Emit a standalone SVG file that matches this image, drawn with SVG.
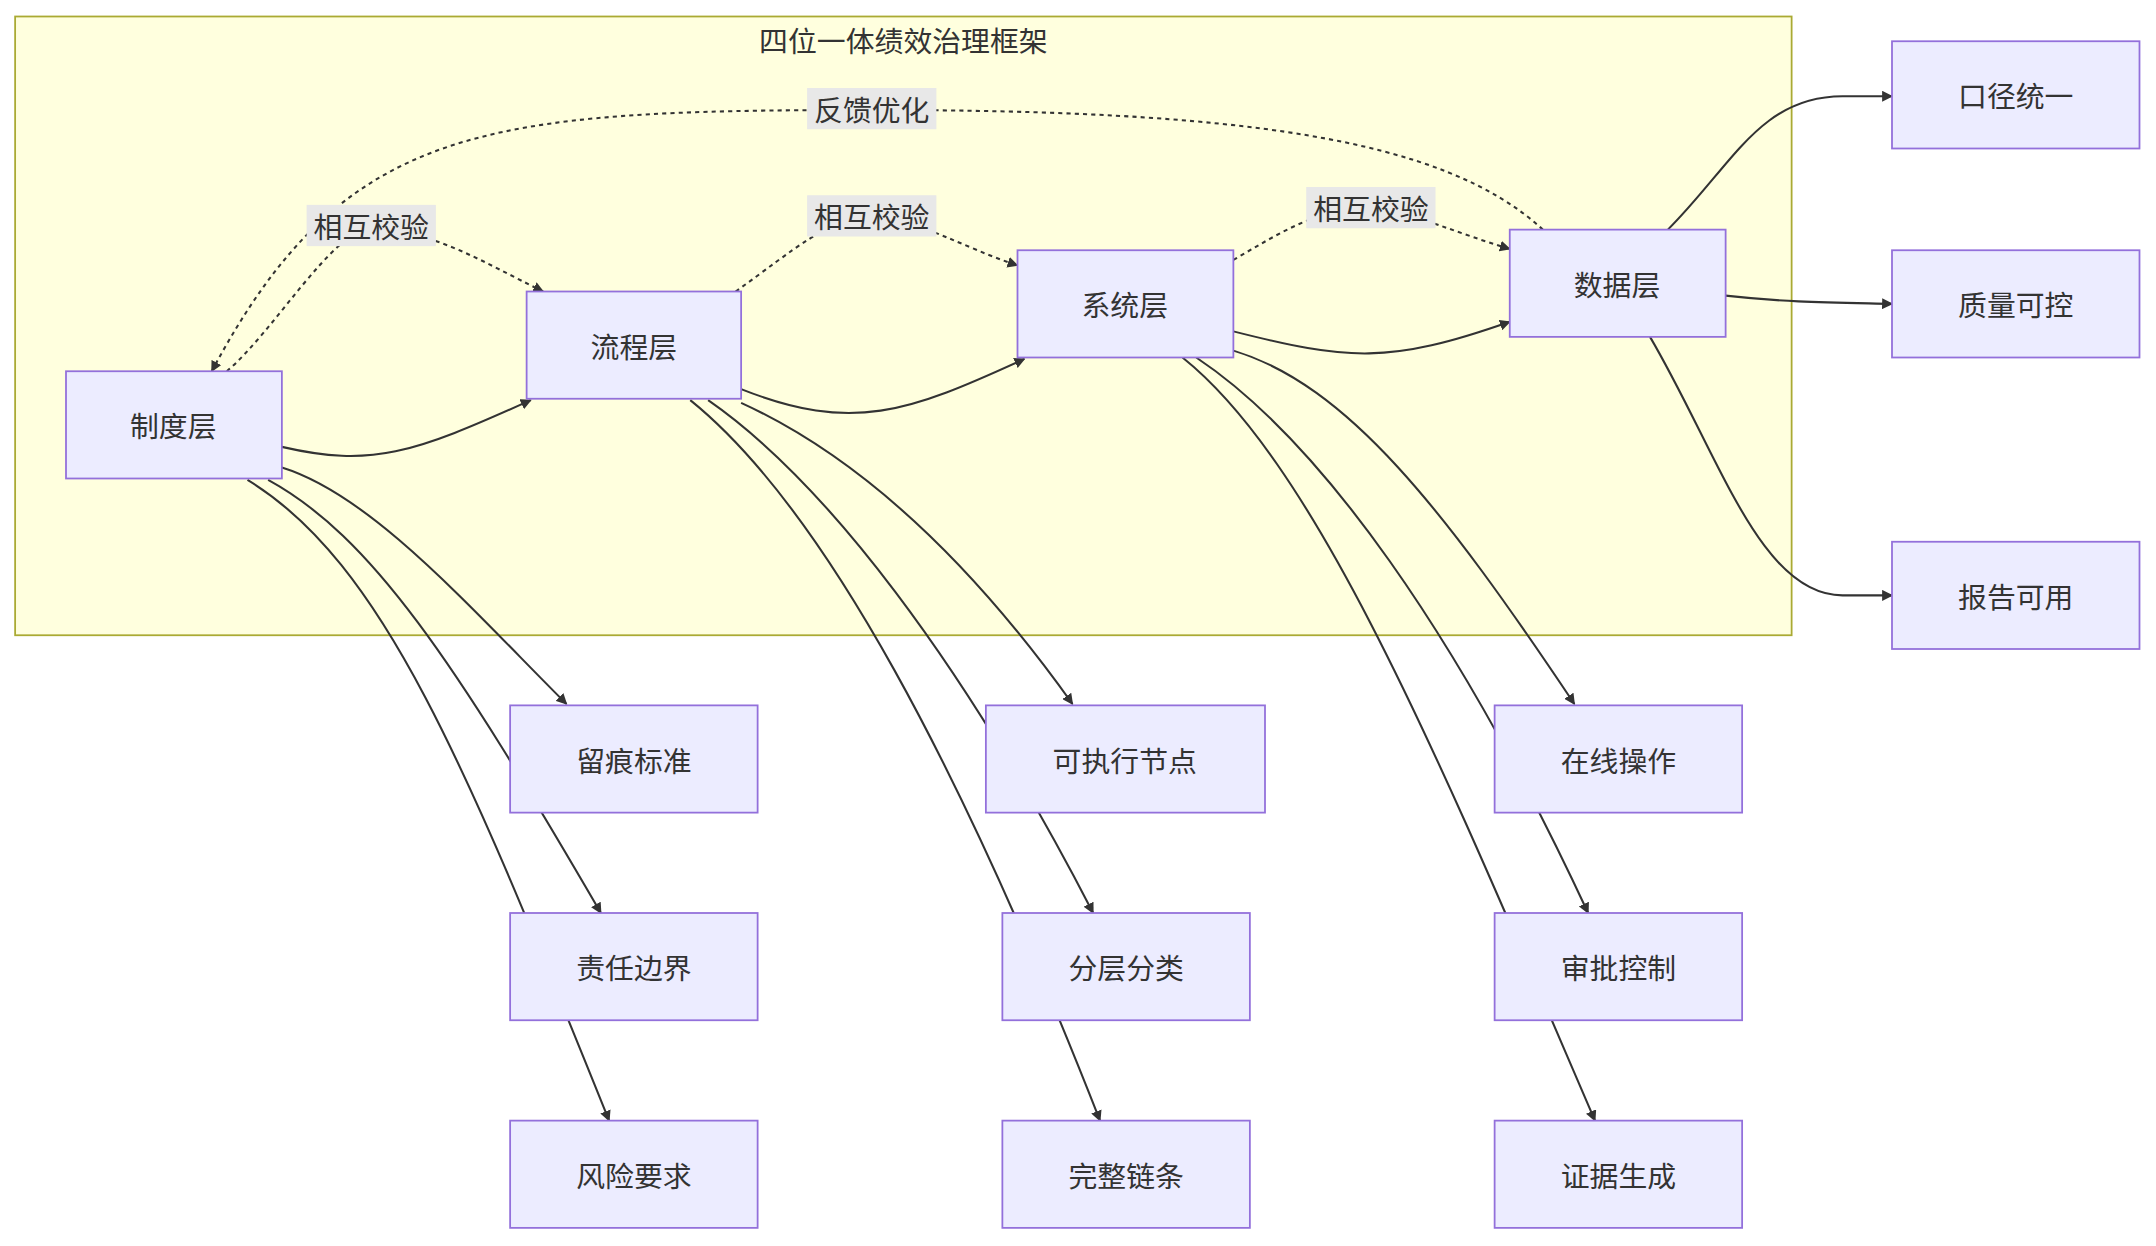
<svg xmlns="http://www.w3.org/2000/svg" width="2156" height="1246" viewBox="0 0 2156 1246">
<style>
.n rect{fill:#ececff;stroke:#9370db;stroke-width:1.3}
text{font-family:"Noto Sans CJK SC","Liberation Sans",sans-serif;font-size:21px;fill:#333;text-anchor:middle;dominant-baseline:central}
.e path{fill:none;stroke:#333;stroke-width:1.5;marker-end:url(#a)}
.e .d{stroke-dasharray:3 3}
.lb{fill:#e8e8e8}
</style>
<defs><marker id="a" viewBox="0 0 10 10" refX="9" refY="5" markerWidth="8" markerHeight="8" orient="auto" markerUnits="userSpaceOnUse"><path d="M0,0L10,5L0,10z" fill="#333"/></marker></defs>
<rect width="2156" height="1246" fill="#fff"/>
<g transform="scale(1.375)">
<g id="cluster"><rect x="11" y="12" width="1292" height="450" fill="#ffffde" stroke="#aaaa33" stroke-width="1.3"/><text x="657" y="29">四位一体绩效治理框架</text></g>
<g class="e" id="edges">
<path d="M205,325 C270,340 300,330 386,291"/>
<path d="M539,283 C620,315 660,300 745,261"/>
<path d="M897,241 C980,262 1010,265 1098,234"/>
<path d="M205,340 C270,360 340,440 412,512"/>
<path d="M195,349 C270,390 330,480 437,664"/>
<path d="M180,349 C280,410 340,560 443,815"/>
<path d="M539,293 C620,330 700,400 780,512"/>
<path d="M515,291 C600,350 700,480 795,664"/>
<path d="M502,291 C600,370 700,560 800,815"/>
<path d="M897,255 C980,280 1050,370 1145,512"/>
<path d="M870,260 C960,320 1060,460 1155,664"/>
<path d="M860,260 C960,340 1050,560 1160,815"/>
<path d="M1213,167 C1260,120 1280,70 1340,70 L1376,70"/>
<path d="M1255,215 C1300,220 1330,220 1376,221"/>
<path d="M1200,245 C1250,330 1280,433 1340,433 L1376,433"/>
<path class="d" d="M165,270 C200,240 240,170 270,165 C320,170 350,190 395,212"/>
<path class="d" d="M535,212 C580,180 600,160 634,158 C670,160 700,180 740,193"/>
<path class="d" d="M897,189 C930,170 960,150 997,152 C1030,155 1060,170 1098,181"/>
<path class="d" d="M1122,167 C1050,100 900,80 634,80 C350,80 250,90 154,270"/>
<rect class="lb" x="223" y="149" width="94" height="30"/><text x="270" y="164">相互校验</text>
<rect class="lb" x="587" y="142" width="94" height="30"/><text x="634" y="157">相互校验</text>
<rect class="lb" x="950" y="136" width="94" height="30"/><text x="997" y="151">相互校验</text>
<rect class="lb" x="587" y="64" width="94" height="30"/><text x="634" y="79">反馈优化</text>
</g>
<g class="n" id="n1"><rect x="48" y="270" width="157" height="78"/><text x="126" y="309">制度层</text></g>
<g class="n" id="n2"><rect x="383" y="212" width="156" height="78"/><text x="461" y="251">流程层</text></g>
<g class="n" id="n3"><rect x="740" y="182" width="157" height="78"/><text x="818" y="221">系统层</text></g>
<g class="n" id="n4"><rect x="1098" y="167" width="157" height="78"/><text x="1176" y="206">数据层</text></g>
<g class="n" id="n5"><rect x="1376" y="30" width="180" height="78"/><text x="1466" y="69">口径统一</text></g>
<g class="n" id="n6"><rect x="1376" y="182" width="180" height="78"/><text x="1466" y="221">质量可控</text></g>
<g class="n" id="n7"><rect x="1376" y="394" width="180" height="78"/><text x="1466" y="433">报告可用</text></g>
<g class="n" id="n8"><rect x="371" y="513" width="180" height="78"/><text x="461" y="552">留痕标准</text></g>
<g class="n" id="n9"><rect x="371" y="664" width="180" height="78"/><text x="461" y="703">责任边界</text></g>
<g class="n" id="n10"><rect x="371" y="815" width="180" height="78"/><text x="461" y="854">风险要求</text></g>
<g class="n" id="n11"><rect x="717" y="513" width="203" height="78"/><text x="818" y="552">可执行节点</text></g>
<g class="n" id="n12"><rect x="729" y="664" width="180" height="78"/><text x="819" y="703">分层分类</text></g>
<g class="n" id="n13"><rect x="729" y="815" width="180" height="78"/><text x="819" y="854">完整链条</text></g>
<g class="n" id="n14"><rect x="1087" y="513" width="180" height="78"/><text x="1177" y="552">在线操作</text></g>
<g class="n" id="n15"><rect x="1087" y="664" width="180" height="78"/><text x="1177" y="703">审批控制</text></g>
<g class="n" id="n16"><rect x="1087" y="815" width="180" height="78"/><text x="1177" y="854">证据生成</text></g>
</g>
</svg>
